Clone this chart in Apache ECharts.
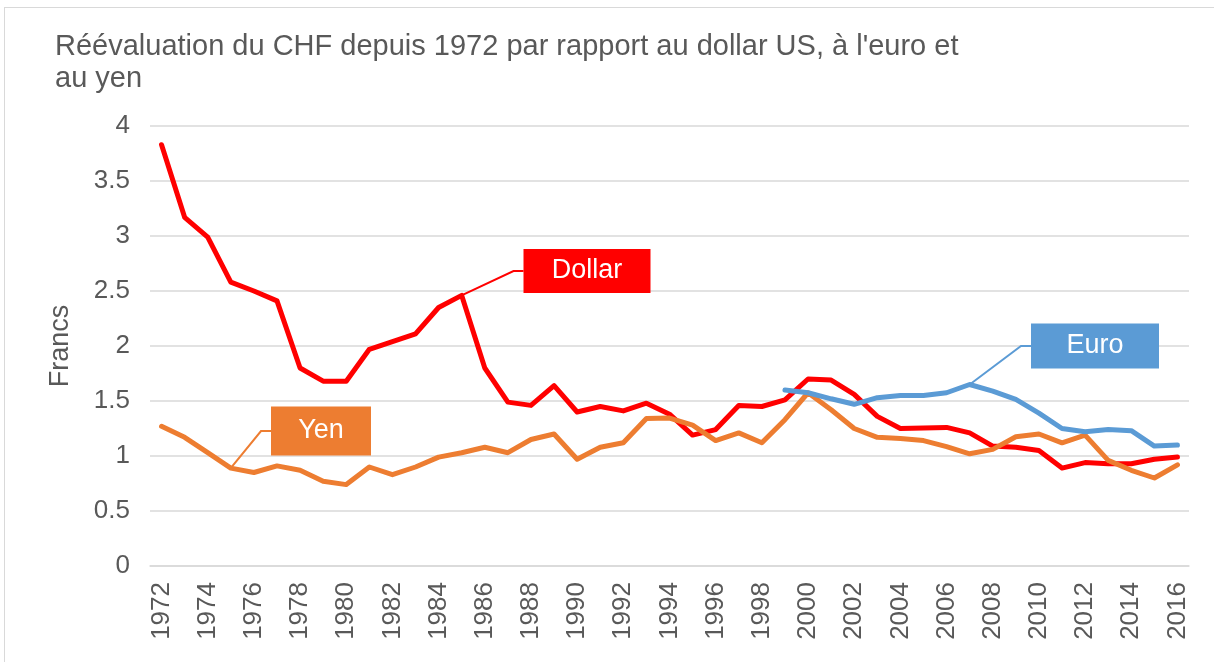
<!DOCTYPE html>
<html>
<head>
<meta charset="utf-8">
<script src="https://cdn.jsdelivr.net/npm/echarts@6/dist/echarts.min.js"></script>
<style>
  html, body { margin: 0; padding: 0; background: #fff; }
  #wrap { position: relative; width: 1214px; height: 662px; overflow: hidden; }
  #frame { position: absolute; left: 4px; top: 7px; width: 1220px; height: 670px; border: 1px solid #d9d9d9; }
  #chart { position: absolute; left: 0; top: 0; width: 1214px; height: 662px; }
</style>
</head>
<body>
<div id="wrap">
  <div id="frame"></div>
  <div id="chart"></div>
</div>
<script>
// années
const years = ['1972','1973','1974','1975','1976','1977','1978','1979','1980','1981',
  '1982','1983','1984','1985','1986','1987','1988','1989','1990','1991',
  '1992','1993','1994','1995','1996','1997','1998','1999','2000','2001',
  '2002','2003','2004','2005','2006','2007','2008','2009','2010','2011',
  '2012','2013','2014','2015','2016']

// CHF pour 1 dollar US
const dollar = [3.83, 3.17, 2.99, 2.58, 2.50, 2.41, 1.80, 1.68, 1.68, 1.97,
  2.04, 2.11, 2.35, 2.46, 1.80, 1.49, 1.46, 1.64, 1.40, 1.45,
  1.41, 1.48, 1.38, 1.19, 1.24, 1.46, 1.45, 1.51, 1.70, 1.69,
  1.56, 1.36, 1.25, 1.255, 1.26, 1.21, 1.09, 1.08, 1.05, 0.89,
  0.94, 0.93, 0.93, 0.97, 0.99]

// CHF pour 100 yen
const yen = [1.27, 1.17, 1.03, 0.89, 0.85, 0.91, 0.87, 0.77, 0.74, 0.90,
  0.83, 0.90, 0.99, 1.03, 1.08, 1.03, 1.15, 1.20, 0.97, 1.08,
  1.12, 1.34, 1.345, 1.28, 1.14, 1.21, 1.12, 1.33, 1.575, 1.42,
  1.25, 1.17, 1.16, 1.14, 1.085, 1.02, 1.06, 1.175, 1.20, 1.12,
  1.19, 0.96, 0.87, 0.80, 0.92]

// CHF pour 1 euro (depuis 1999)
const euro = [null, null, null, null, null, null, null, null, null, null,
  null, null, null, null, null, null, null, null, null, null,
  null, null, null, null, null, null, null, 1.60, 1.575, 1.52,
  1.47, 1.53, 1.55, 1.55, 1.575, 1.65, 1.59, 1.515, 1.39, 1.25,
  1.22, 1.24, 1.23, 1.09, 1.10]

const yTicks = [0, 0.5, 1, 1.5, 2, 2.5, 3, 3.5, 4]

const FONT = '"Liberation Sans", Arial, sans-serif'
const TXT = '#595959'

const chart = echarts.init(document.getElementById('chart'), null, { renderer: 'canvas' })

// une série avec son étiquette (boîte colorée + trait de rappel) sur un point
function lineSeries(name, values, color, tagYear, box) {
  const idx = years.indexOf(tagYear)
  const data = values.map((v, i) => {
    if (i !== idx) return v
    return {
      value: v,
      label: {
        show: true,
        formatter: name,
        color: '#fff',
        fontFamily: FONT,
        fontSize: 27,
        backgroundColor: color,
        width: box.w,
        height: box.h,
        lineHeight: box.h,
        align: 'center',
        verticalAlign: 'middle'
      },
      labelLine: { show: true, length2: 10, smooth: false, lineStyle: { color: color, width: 2 } }
    }
  })
  return {
    name: name,
    type: 'line',
    data: data,
    symbol: 'circle',
    symbolSize: 1,
    showSymbol: true,
    connectNulls: false,
    lineStyle: { color: color, width: 5, cap: 'round', join: 'round' },
    itemStyle: { color: color },
    emphasis: { disabled: true },
    labelLayout: function (p) {
      if (p.dataIndex !== idx) return {}
      return { x: box.x, y: box.y }
    },
    animation: false
  }
}

chart.setOption({
  backgroundColor: 'transparent',
  animation: false,
  textStyle: { fontFamily: FONT },
  title: {
    text: "Réévaluation du CHF depuis 1972 par rapport au dollar US, à l'euro et\nau yen",
    left: 50,
    top: 26,
    textStyle: { color: TXT, fontFamily: FONT, fontSize: 29, fontWeight: 'normal', lineHeight: 32 }
  },
  grid: { left: 150, right: 25, top: 126, bottom: 96 },
  xAxis: {
    type: 'category',
    data: years,
    boundaryGap: true,
    axisLine: { show: true, lineStyle: { color: '#d9d9d9', width: 1.5 } },
    axisTick: { show: false },
    axisLabel: {
      interval: 1,
      rotate: 90,
      color: TXT,
      fontFamily: FONT,
      fontSize: 26,
      margin: 16
    },
    splitLine: { show: false }
  },
  yAxis: {
    type: 'value',
    min: yTicks[0],
    max: yTicks[yTicks.length - 1],
    interval: 0.5,
    name: 'Francs',
    nameLocation: 'middle',
    nameRotate: 90,
    nameGap: 76,
    nameTextStyle: { color: TXT, fontFamily: FONT, fontSize: 27 },
    axisLine: { show: false },
    axisTick: { show: false },
    axisLabel: { color: TXT, fontFamily: FONT, fontSize: 26, margin: 20 },
    splitLine: { lineStyle: { color: '#d9d9d9', width: 1.5 } }
  },
  series: [
    lineSeries('Dollar', dollar, '#ff0000', '1985', { x: 587, y: 271, w: 127, h: 44 }),
    lineSeries('Yen', yen, '#ed7d31', '1975', { x: 321, y: 431, w: 100, h: 49 }),
    lineSeries('Euro', euro, '#5b9bd5', '2007', { x: 1095, y: 346, w: 128, h: 45 })
  ]
})
</script>
</body>
</html>
